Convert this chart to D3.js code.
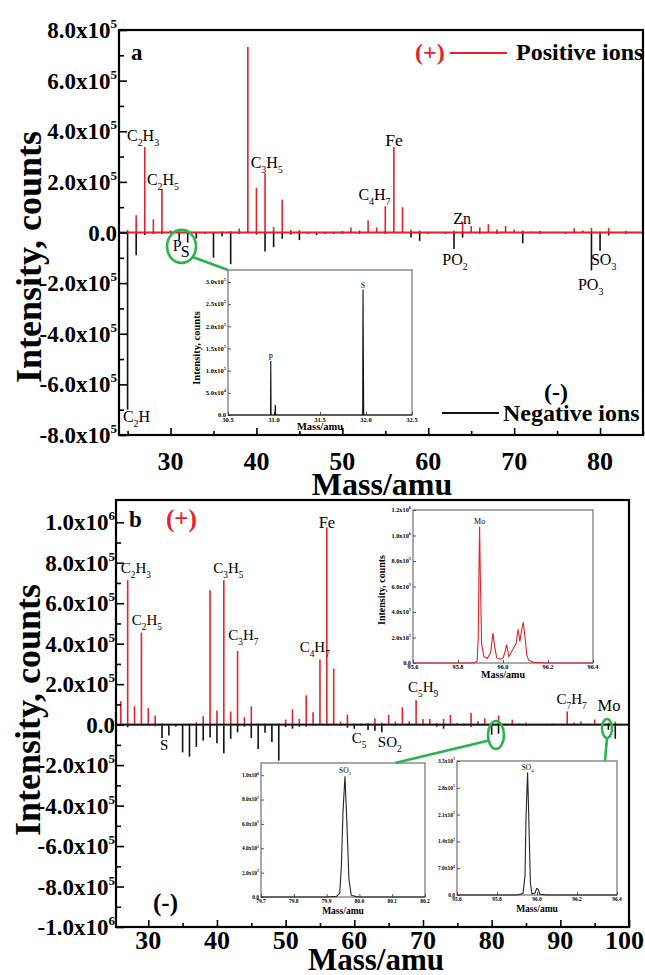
<!DOCTYPE html>
<meta charset="utf-8">
<style>
  body { margin: 0; background: #fff; }
  svg { display: block; }
  text { font-family: "Liberation Serif", "Times New Roman", serif; fill: #000; }
</style>
<body>
<script src="https://cdn.jsdelivr.net/npm/d3@7"></script>
<script>
// ---------- data (mass in amu, intensity in counts) ----------
// panel a, positive ions
var posA = [[25,1e4],[26,6.8e4],[27,3.38e5],[28,5.2e4],[29,1.72e5],[30,8e3],[31,3e3],[32,3e3],
  [36,4e3],[37,5e3],[38,1.6e4],[39,7.33e5],[40,1.76e5],[41,2.34e5],[42,2.2e4],[43,1.3e5],[44,1e4],
  [45,1e4],[46,3e3],[47,3e3],[49,3e3],[50,6e3],[51,2e4],[52,8e3],[53,4.7e4],[54,2e4],[55,1.04e5],
  [56,3.38e5],[57,1.0e5],[58,1.2e4],[59,8e3],[60,3e3],[62,3e3],[63,8e3],[64,4.2e4],[65,2.6e4],
  [66,2e4],[67,3.3e4],[68,1.2e4],[69,2.6e4],[70,1.2e4],[71,8e3],[72,4e3],[73,7e3],[75,3e3],
  [77,1.7e4],[78,8e3],[79,1.8e4],[80,3e3],[81,1.8e4],[83,6e3],[84,3e3]];
// panel a, negative ions
var negA = [[25,-7.0e5],[26,-9e4],[27,-1e4],[28,-5e3],[29,-5e3],[31,-3e4],[32,-4e4],[33,-2.4e4],
  [34,-5e3],[35,-1.0e5],[36,-1.5e4],[37,-1.25e5],[38,-5e3],[40,-8e3],[41,-7.5e4],[42,-5.8e4],
  [43,-2.5e4],[44,-8e3],[45,-3e4],[46,-5e3],[47,-1e4],[48,-5e3],[49,-5e3],[50,-5e3],[52,-5e3],
  [55,-5e3],[58,-2e4],[59,-3.3e4],[60,-5e3],[62,-5e3],[63,-6.5e4],[64,-2e4],[66,-5e3],[68,-5e3],
  [71,-4.3e4],[73,-5e3],[76,-5e3],[79,-1.5e5],[80,-7.2e4],[81,-1.2e4],[83,-5e3]];
// panel b, positive ions
var posB = [[26,1.15e5],[27,7.14e5],[28,9.1e4],[29,4.55e5],[30,8.1e4],[31,4.5e4],[32,5e3],[36,5e3],
  [37,1.2e4],[38,4.2e4],[39,6.64e5],[40,7e4],[41,7.14e5],[42,6.5e4],[43,3.64e5],[44,3.7e4],[45,9e4],
  [46,5e3],[47,5e3],[49,5e3],[50,2.5e4],[51,7.5e4],[52,2.8e4],[53,1.45e5],[54,6.1e4],[55,3.2e5],
  [56,9.75e5],[57,2.77e5],[58,1.5e4],[59,5e4],[60,5e3],[61,5e3],[62,8e3],[63,3.2e4],[64,1e4],
  [65,4.8e4],[66,1.5e4],[67,8.6e4],[68,1.6e4],[69,1.2e5],[70,2.8e4],[71,2.8e4],[72,8e3],[73,2.8e4],
  [74,4.8e4],[75,8e3],[76,5e3],[77,5.8e4],[78,1.8e4],[79,3.2e4],[80,8e3],[81,4.5e4],[82,5e3],
  [83,2.5e4],[84,5e3],[85,1e4],[86,3e3],[89,5e3],[90,5e3],[91,6.5e4],[92,1e4],[93,1.5e4],[94,5e3],
  [95,2.5e4],[96,5e3],[97,1e4],[98,1.5e4]];
// panel b, negative ions
var negB = [[26,-5e3],[27,-1.3e4],[28,-5e3],[29,-5e3],[30,-5e3],[31,-8e3],[32,-6.6e4],[33,-5.4e4],
  [34,-1e4],[35,-1.37e5],[36,-1.58e5],[37,-1.1e5],[38,-7.9e4],[39,-6.3e4],[40,-9.2e4],[41,-1.42e5],
  [42,-7e4],[43,-3.8e4],[44,-1e4],[45,-6.6e4],[46,-1.2e5],[47,-4e4],[48,-8.6e4],[49,-1.78e5],
  [50,-1.2e4],[51,-2e4],[52,-1e4],[53,-1e4],[54,-5e3],[56,-5e3],[58,-5e3],[59,-1.5e4],[60,-2e4],
  [61,-5e3],[62,-2.6e4],[63,-3e4],[64,-3.8e4],[66,-5e3],[68,-5e3],[70,-5e3],[72,-1e4],[73,-2e4],
  [74,-5e3],[76,-5e3],[77,-1e4],[79,-5e3],[80,-5e4],[81,-4.5e4],[85,-5e3],[88,-5e3],[97,-2.6e4],
  [98,-7e4]];

// high resolution insets
var insetPS = [[30.5,0],[30.955,0],[30.962,0],[30.965,1.22e5],[30.968,0],[31.01,0],[31.014,2.3e4],
  [31.018,0],[31.96,0],[31.964,0],[31.966,2.0e5],[31.968,2.83e5],[31.970,1.8e5],[31.972,1.06e5],
  [31.975,0],[32.5,0]];
var insetMo = [[95.6,0],[95.85,0],[95.875,3e3],[95.885,1.5e4],[95.89,2e5],[95.893,7e5],[95.896,1.07e6],
  [95.9,6e5],[95.905,1.5e5],[95.915,5e4],[95.93,3.5e4],[95.945,8e4],[95.955,2.35e5],[95.962,1.4e5],
  [95.972,4e4],[95.99,3e4],[96.0,4e4],[96.008,8e4],[96.016,1.45e5],[96.026,5e4],[96.038,9e4],
  [96.048,1.2e5],[96.058,1.5e5],[96.067,2.65e5],[96.075,1.7e5],[96.083,2.6e5],[96.09,3.2e5],
  [96.098,2.0e5],[96.106,6e4],[96.115,2e4],[96.135,5e3],[96.2,0],[96.4,0]];
var insetSO3 = [[79.7,0],[79.9,0],[79.93,5e3],[79.94,3e4],[79.945,2.5e5],[79.95,7e5],[79.956,9.9e5],
  [79.962,6e5],[79.968,1.5e5],[79.975,1.5e4],[79.99,3e3],[80.0,0],[80.2,0]];
var insetSO4 = [[95.6,0],[95.9,0],[95.93,4e3],[95.94,5e4],[95.945,2e5],[95.953,3.2e5],[95.96,1.8e5],
  [95.967,3e4],[95.975,3e3],[95.99,5e3],[95.998,1.7e4],[96.005,1.5e4],[96.015,2e3],[96.05,0],[96.4,0]];

// tick values
var yTicksA = [-8e5,-6e5,-4e5,-2e5,0,2e5,4e5,6e5,8e5];
var xTicksA = [30,40,50,60,70,80];
var yTicksB = [-1e6,-8e5,-6e5,-4e5,-2e5,0,2e5,4e5,6e5,8e5,1e6];
var xTicksB = [30,40,50,60,70,80,90,100];
var psTicksX = [30.5,31.0,31.5,32.0,32.5], psTicksY = [0,5e4,1e5,1.5e5,2e5,2.5e5,3e5];
var moTicksX = [95.6,95.8,96.0,96.2,96.4], moTicksY = [0,2e5,4e5,6e5,8e5,1e6,1.2e6];
var so3TicksX = [79.7,79.8,79.9,80.0,80.1,80.2], so3TicksY = [0,2e5,4e5,6e5,8e5,1e6];
var so4TicksX = [95.6,95.8,96.0,96.2,96.4], so4TicksY = [0,7e4,1.4e5,2.1e5,2.8e5,3.5e5];

// peak annotations: [label, mass, intensity at label baseline]
var labelsA = [["C2H3",24.93,3.62e5],["C2H5",27.25,1.88e5],["C3H5",39.33,2.55e5],["C4H7",51.87,1.28e5],
  ["Fe",55.0,3.42e5],["Zn",62.9,3.4e4],["PO2",61.63,-1.28e5],["SO3",78.94,-1.28e5],["PO3",77.43,-2.27e5],
  ["C2H",24.46,-7.49e5],["P",30.27,-7.3e4],["S",31.2,-9.7e4]];
var labelsB = [["C2H3",26.0,7.48e5],["C2H5",27.6,4.91e5],["C3H5",39.47,7.48e5],["C3H7",41.66,4.17e5],
  ["C4H7",52.04,3.58e5],["Fe",54.81,9.7e5],["C5H9",67.82,1.6e5],["C7H7",89.44,1.01e5],["Mo",95.43,6.7e4],
  ["S",31.72,-1.26e5],["C5",59.63,-9.1e4],["SO2",63.43,-1.11e5]];

// ---------- drawing ----------
var RED = "#e3232b", GREEN = "#2db34d";
var svg = d3.select("body").append("svg").attr("width", 645).attr("height", 975);

function sci(v) {
  if (v === 0) return ["0.0", ""];
  var e = Math.floor(Math.log10(Math.abs(v)) + 1e-9);
  return [(v / Math.pow(10, e)).toFixed(1) + "x10", String(e)];
}

function sciText(sel, v, supSize, supDy) {
  var p = sci(v);
  sel.text(p[0]);
  if (p[1]) sel.append("tspan").attr("dy", -supDy).attr("font-size", supSize).text(p[1]);
}

// formula with subscript digits
function chem(g, str, x, y, size) {
  var t = g.append("text").attr("x", x).attr("y", y).attr("font-size", size);
  var low = false;
  str.match(/\d+|\D+/g).forEach(function(tok) {
    var ts = t.append("tspan").text(tok);
    if (/\d/.test(tok)) { ts.attr("font-size", size * 0.62).attr("dy", size * 0.3); low = true; }
    else if (low) { ts.attr("dy", -size * 0.3); low = false; }
  });
}

function tickLines(g, axis, tr) {
  g.append("g").attr("transform", tr).call(axis)
    .call(function(a) {
      a.select(".domain").remove();
      a.selectAll("line").attr("stroke", "#000").attr("stroke-width", 1.6);
    });
}

function panel(o) {
  var x = d3.scaleLinear().domain(o.xDom).range([o.l, o.r]);
  var y = d3.scaleLinear().domain(o.yDom).range([o.b, o.t]);
  var g = svg.append("g");
  var y0 = y(0);

  function sticks(data, color) {
    g.selectAll(null).data(data).enter().append("line")
      .attr("x1", function(d) { return x(d[0]); }).attr("x2", function(d) { return x(d[0]); })
      .attr("y1", y0).attr("y2", function(d) { return y(d[1]); })
      .attr("stroke", color).attr("stroke-width", 1.6);
  }
  function baseline(color) {
    g.append("line").attr("x1", o.l).attr("x2", o.r).attr("y1", y0).attr("y2", y0)
      .attr("stroke", color).attr("stroke-width", 1.6);
  }
  sticks(o.neg, "#111");
  sticks(o.pos, RED);
  if (o.redTop) { baseline("#111"); baseline(RED); } else { baseline(RED); baseline("#111"); }

  // frame
  g.append("rect").attr("x", o.l).attr("y", o.t).attr("width", o.r - o.l).attr("height", o.b - o.t)
    .attr("fill", "none").attr("stroke", "#000").attr("stroke-width", 2.2);

  // ticks, inward
  var yMinor = o.yTicks.slice(1).map(function(v, i) { return (v + o.yTicks[i]) / 2; });
  tickLines(g, d3.axisLeft(y).tickValues(o.yTicks).tickSize(-8).tickFormat(""), "translate(" + o.l + ",0)");
  tickLines(g, d3.axisLeft(y).tickValues(yMinor).tickSize(-5).tickFormat(""), "translate(" + o.l + ",0)");
  tickLines(g, d3.axisBottom(x).tickValues(o.xTicks).tickSize(-7).tickFormat(""), "translate(0," + o.b + ")");
  tickLines(g, d3.axisBottom(x).tickValues(o.xMinor).tickSize(-4).tickFormat(""), "translate(0," + o.b + ")");

  // tick labels
  g.selectAll(null).data(o.yTicks).enter().append("text")
    .attr("x", o.yLabX).attr("y", function(d) { return y(d) + 8; })
    .attr("text-anchor", "end").attr("font-size", 23).attr("font-weight", "bold")
    .each(function(d) { sciText(d3.select(this), d, 13, 10); });
  g.selectAll(null).data(o.xTicks).enter().append("text")
    .attr("x", function(d) { return Math.min(x(d), 644 - o.xLabSize * 0.75); }).attr("y", o.xLabY)
    .attr("text-anchor", "middle").attr("font-size", o.xLabSize).attr("font-weight", "bold")
    .text(function(d) { return d; });

  // axis titles
  g.append("text").attr("transform", "translate(" + o.yTitle[0] + "," + o.yTitle[1] + ") rotate(-90)")
    .attr("text-anchor", "middle").attr("font-size", 36).attr("font-weight", "bold").text("Intensity, counts");
  g.append("text").attr("x", o.xTitle[0]).attr("y", o.xTitle[1])
    .attr("text-anchor", "middle").attr("font-size", o.xTitleSize).attr("font-weight", "bold").text("Mass/amu");

  // peak labels
  o.labels.forEach(function(d) {
    var size = (d[0] === "Fe" || d[0] === "Mo") ? o.labSize + 1.5 : o.labSize;
    chem(g, d[0], x(d[1]), y(d[2]), size);
  });
  return { x: x, y: y, g: g };
}

function inset(o) {
  var x = d3.scaleLinear().domain(o.xDom).range([o.l, o.r]);
  var y = d3.scaleLinear().domain(o.yDom).range([o.b, o.t]);
  var g = svg.append("g");
  g.append("rect").attr("x", o.l).attr("y", o.t).attr("width", o.r - o.l).attr("height", o.b - o.t)
    .attr("fill", "#fff").attr("stroke", "#555").attr("stroke-width", 1);
  g.append("g").attr("transform", "translate(" + o.l + ",0)")
    .call(d3.axisLeft(y).tickValues(o.yTicks).tickSize(-3).tickFormat(""))
    .call(function(a) { a.select(".domain").remove(); a.selectAll("line").attr("stroke", "#555"); });
  g.append("g").attr("transform", "translate(0," + o.b + ")")
    .call(d3.axisBottom(x).tickValues(o.xTicks).tickSize(-3).tickFormat(""))
    .call(function(a) { a.select(".domain").remove(); a.selectAll("line").attr("stroke", "#555"); });

  g.append("path").datum(o.data)
    .attr("d", d3.line().x(function(d) { return x(d[0]); }).y(function(d) { return y(d[1]); }))
    .attr("fill", "none").attr("stroke", o.color).attr("stroke-width", 1.1);

  g.selectAll(null).data(o.yTicks).enter().append("text")
    .attr("x", o.l - 2).attr("y", function(d) { return y(d) + o.fs * 0.35; })
    .attr("text-anchor", "end").attr("font-size", o.fs).attr("font-weight", "bold")
    .each(function(d) { sciText(d3.select(this), d, o.fs * 0.7, o.fs * 0.45); });
  g.selectAll(null).data(o.xTicks).enter().append("text")
    .attr("x", function(d) { return x(d); }).attr("y", o.b + o.fs)
    .attr("text-anchor", "middle").attr("font-size", o.fs).attr("font-weight", "bold")
    .text(function(d) { return d.toFixed(1); });

  g.append("text").attr("x", (o.l + o.r) / 2).attr("y", o.xTitleY)
    .attr("text-anchor", "middle").attr("font-size", o.titleSize).attr("font-weight", "bold").text("Mass/amu");
  if (o.yTitle) {
    g.append("text").attr("transform", "translate(" + o.yTitle[0] + "," + o.yTitle[1] + ") rotate(-90)")
      .attr("text-anchor", "middle").attr("font-size", o.titleSize).attr("font-weight", "bold")
      .text("Intensity, counts");
  }
  o.peaks.forEach(function(p) {
    var t = g.append("text").attr("x", x(p[1])).attr("y", y(p[2])).attr("text-anchor", "middle")
      .attr("font-size", o.peakSize);
    var m = p[0].match(/^(\D+)(\d*)$/);
    t.append("tspan").text(m[1]);
    if (m[2]) t.append("tspan").attr("font-size", o.peakSize * 0.6).attr("dy", o.peakSize * 0.25).text(m[2]);
  });
  return { x: x, y: y };
}

// ---- panel a ----
var A = panel({
  l: 119, r: 643, t: 30, b: 435, xDom: [24, 85], yDom: [-8e5, 8e5],
  pos: posA, neg: negA, redTop: true,
  yTicks: yTicksA, xTicks: xTicksA, xMinor: [25, 35, 45, 55, 65, 75, 85],
  yLabX: 117, xLabY: 470, xLabSize: 26, yTitle: [41, 257], xTitle: [382, 495], xTitleSize: 32,
  labels: labelsA, labSize: 16
});
A.g.append("text").attr("x", 131).attr("y", 60).attr("font-size", 23).attr("font-weight", "bold").text("a");
A.g.append("text").attr("x", 415).attr("y", 60).attr("font-size", 24).attr("font-weight", "bold")
  .style("fill", RED).text("(+)");
A.g.append("line").attr("x1", 450).attr("x2", 507).attr("y1", 53).attr("y2", 53).attr("stroke", RED).attr("stroke-width", 1.8);
A.g.append("text").attr("x", 516).attr("y", 60).attr("font-size", 24).attr("font-weight", "bold").text("Positive ions");
A.g.append("text").attr("x", 544).attr("y", 400).attr("font-size", 24).attr("font-weight", "bold").text("(-)");
A.g.append("line").attr("x1", 442).attr("x2", 499).attr("y1", 413).attr("y2", 413).attr("stroke", "#111").attr("stroke-width", 1.8);
A.g.append("text").attr("x", 503).attr("y", 421).attr("font-size", 24).attr("font-weight", "bold").text("Negative ions");

// ---- panel b ----
var B = panel({
  l: 116, r: 629, t: 500, b: 927, xDom: [25.3, 100], yDom: [-1e6, 1.11e6],
  pos: posB, neg: negB, redTop: false,
  yTicks: yTicksB, xTicks: xTicksB, xMinor: [35, 45, 55, 65, 75, 85, 95],
  yLabX: 115, xLabY: 949, xLabSize: 26, yTitle: [40, 710], xTitle: [376, 970], xTitleSize: 31,
  labels: labelsB, labSize: 15
});
B.g.append("text").attr("x", 129).attr("y", 527).attr("font-size", 23).attr("font-weight", "bold").text("b");
B.g.append("text").attr("x", 166).attr("y", 527).attr("font-size", 25).attr("font-weight", "bold")
  .style("fill", RED).text("(+)");
B.g.append("text").attr("x", 153).attr("y", 911).attr("font-size", 25).attr("font-weight", "bold").text("(-)");

// ---- insets ----
inset({ l: 228, r: 412, t: 270, b: 415, xDom: [30.5, 32.5], yDom: [0, 3.27e5], data: insetPS, color: "#111",
  xTicks: psTicksX, yTicks: psTicksY, fs: 6.5, titleSize: 10.5, xTitleY: 430, yTitle: [200, 348],
  peaks: [["P", 30.965, 1.25e5], ["S", 31.968, 2.86e5]], peakSize: 8 });
inset({ l: 413, r: 593, t: 510, b: 663, xDom: [95.6, 96.4], yDom: [0, 1.2e6], data: insetMo, color: RED,
  xTicks: moTicksX, yTicks: moTicksY, fs: 6.3, titleSize: 10, xTitleY: 678, yTitle: [385, 590],
  peaks: [["Mo", 95.896, 1.09e6]], peakSize: 8 });
inset({ l: 261, r: 425, t: 763, b: 897, xDom: [79.7, 80.2], yDom: [0, 1.1e6], data: insetSO3, color: "#222",
  xTicks: so3TicksX, yTicks: so3TicksY, fs: 5.5, titleSize: 9.5, xTitleY: 914, yTitle: null,
  peaks: [["SO3", 79.956, 1.02e6]], peakSize: 7.5 });
inset({ l: 457, r: 617, t: 761, b: 895, xDom: [95.6, 96.4], yDom: [0, 3.5e5], data: insetSO4, color: "#222",
  xTicks: so4TicksX, yTicks: so4TicksY, fs: 5.5, titleSize: 9.5, xTitleY: 912, yTitle: null,
  peaks: [["SO4", 95.953, 3.27e5]], peakSize: 7.5 });

// ---- green callouts ----
function callout(P, mass, val, rx, ry, from, to) {
  var cx = P.x(mass), cy = P.y(val);
  svg.append("ellipse").attr("cx", cx).attr("cy", cy).attr("rx", rx).attr("ry", ry)
    .attr("fill", "none").attr("stroke", GREEN).attr("stroke-width", 2.6);
  svg.append("line").attr("x1", cx + from[0] * rx).attr("y1", cy + from[1] * ry)
    .attr("x2", to[0]).attr("y2", to[1]).attr("stroke", GREEN).attr("stroke-width", 2.6);
}
callout(A, 31.28, -5.5e4, 14.5, 16.5, [0.77, 0.64], [228, 270]);
callout(B, 80.63, -5.1e4, 8, 14, [-0.9, 0.4], [395, 763]);
callout(B, 96.8, -1.9e4, 5, 9.5, [0, 1], [605, 761]);
</script>
</body>
